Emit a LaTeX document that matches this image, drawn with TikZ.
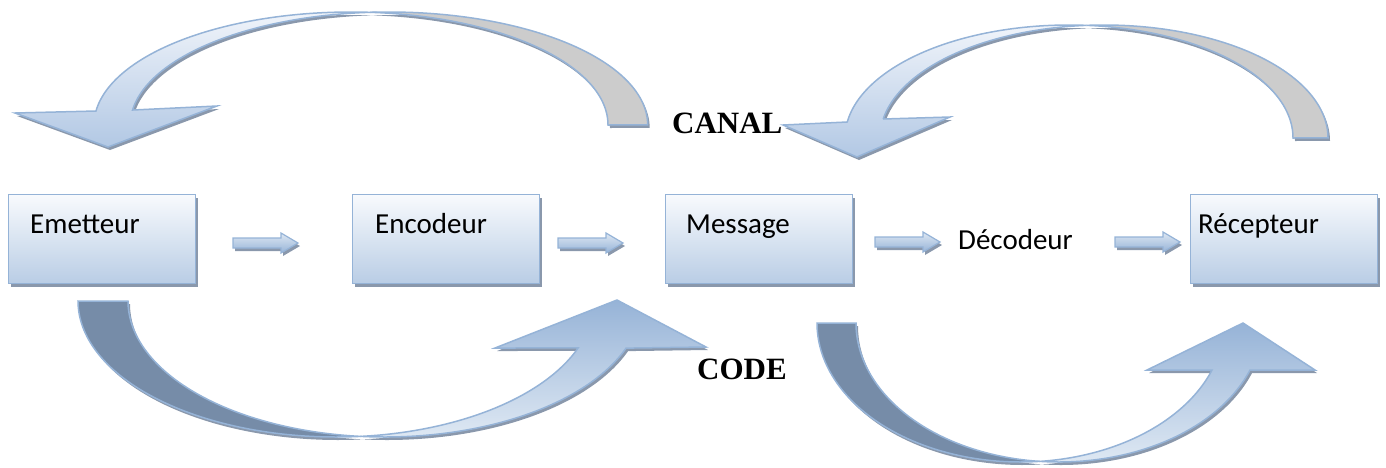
\documentclass[tikz,border=0pt]{standalone}
\usepackage{fontspec}
\setmainfont{Carlito}
\newfontfamily\timesb{Liberation Serif}
\usetikzlibrary{shadows}
\definecolor{bord}{RGB}{149,179,215}
\definecolor{boxbot}{RGB}{185,205,229}
\definecolor{boxtop}{RGB}{248,250,253}
\definecolor{shad}{RGB}{138,152,172}
\definecolor{backgray}{RGB}{204,204,204}
\definecolor{backdark}{RGB}{118,140,168}
\definecolor{fronttop}{RGB}{240,244,250}
\definecolor{frontmid}{RGB}{178,200,228}
\definecolor{headblue}{RGB}{150,179,215}
\definecolor{lightbot}{RGB}{222,232,243}

% elliptic arc helpers: centre x, centre y, rx, ry, start angle, end angle
\newcommand{\arcTop}[6]{plot[domain=0:1,samples=70,variable=\u] ({#1+#3*cos(#5+(#6-#5)*\u)},{#2-#4*sin(#5+(#6-#5)*\u)})}
\newcommand{\arcTopL}[6]{-- plot[domain=0:1,samples=70,variable=\u] ({#1+#3*cos(#5+(#6-#5)*\u)},{#2-#4*sin(#5+(#6-#5)*\u)})}
\newcommand{\arcBot}[6]{plot[domain=0:1,samples=70,variable=\u] ({#1+#3*cos(#5+(#6-#5)*\u)},{#2+#4*sin(#5+(#6-#5)*\u)})}
\newcommand{\arcBotL}[6]{-- plot[domain=0:1,samples=70,variable=\u] ({#1+#3*cos(#5+(#6-#5)*\u)},{#2+#4*sin(#5+(#6-#5)*\u)})}
\newcommand{\smallArr}[2]{(#1,#2-5) -- (#1+48,#2-5) -- (#1+48,#2-10) -- (#1+65,#2) -- (#1+48,#2+10) -- (#1+48,#2+5) -- (#1,#2+5) -- cycle}

\begin{document}
\begin{tikzpicture}[x=1pt,y=-1pt,
  sh/.style={drop shadow={shadow xshift=2pt,shadow yshift=-3pt,fill=shad,opacity=1}},
  box/.style={draw=bord,line width=1.3pt,top color=boxtop,bottom color=boxbot,
    minimum width=187pt,minimum height=89pt,anchor=north west,inner sep=0pt,sh},
  lbl/.style={font=\fontsize{29}{34}\selectfont,inner sep=0pt,anchor=base west},
  biglbl/.style={font=\timesb\bfseries\fontsize{31}{36}\selectfont,inner sep=0pt,anchor=base west},
  smallarrow/.style={draw=bord,line width=1.2pt,top color=lightbot,bottom color=headblue,sh},
  frontdown/.style={draw=bord,line width=1.5pt,top color=fronttop,bottom color=frontmid,sh},
  frontup/.style={draw=bord,line width=1.5pt,top color=headblue,bottom color=lightbot,sh},
  backgrey/.style={draw=bord,line width=1.5pt,fill=backgray,sh},
  backslate/.style={draw=bord,line width=1.5pt,fill=backdark,sh}
]
\useasboundingbox (0,0) rectangle (1386,467);

% boxes
\node[box] (em) at (8,194) {};
\node[box] (en) at (352,194) {};
\node[box] (me) at (665,194) {};
\node[box] (re) at (1190,194) {};

\node[lbl] (emt) at (30,233) {Emetteur};
\node[lbl] (ent) at (375,233) {Encodeur};
\node[lbl] (met) at (686,233) {Message};
\node[lbl] (ret) at (1198,233) {Récepteur};
\node[lbl] (dec) at (958,249) {Décodeur};

% small block arrows
\path[smallarrow] \smallArr{233}{243};
\path[smallarrow] \smallArr{558}{243};
\path[smallarrow] \smallArr{875}{242};
\path[smallarrow] \smallArr{1115}{242};

% top-left curved arrow (A)
\path[backgrey] \arcTop{389}{125}{258.7}{113}{94.2}{0} \arcTopL{351}{125}{257}{113}{0}{85.8} -- cycle;
\path[frontdown] (96,111) -- (15,113) -- (108,147) -- (217,106) -- (133,110)
   \arcTopL{389}{125}{258.7}{113}{172.4}{94.2} \arcTopL{351}{125}{257}{113}{85.8}{172.9} -- cycle;

% top-right curved arrow (B)
\path[backgrey] \arcTop{1104}{138}{224}{113}{94.5}{0} \arcTopL{1069}{138}{224}{113}{0}{85.5} -- cycle;
\path[frontdown] (847,122) -- (783,125) -- (857,157) -- (950,117) -- (883,119)
   \arcTopL{1104}{138}{224}{113}{170.3}{94.5} \arcTopL{1069}{138}{224}{113}{85.5}{171.9} -- cycle;

% bottom-left curved arrow (C)
\path[backslate] \arcBot{336}{301}{258}{136}{180}{84.5} \arcBotL{385}{301}{257}{136}{95.5}{180} -- cycle;
\path[frontup] \arcBot{385}{301}{257}{136}{95.5}{20.2} -- (706,347) -- (617,300) -- (495,348)
   \arcBotL{336}{301}{258}{136}{20.2}{84.5} -- cycle;

% bottom-right curved arrow (D)
\path[backslate] \arcBot{1020.5}{323}{203.5}{139}{180}{84.6} \arcBotL{1059}{323}{203}{139}{95.4}{180} -- cycle;
\path[frontup] \arcBot{1059}{323}{203}{139}{95.4}{19.77} -- (1315,370) -- (1243,323) -- (1147,370)
   \arcBotL{1020.5}{323}{203.5}{139}{19.77}{84.6} -- cycle;

% labels
\node[biglbl] (canal) at (672,133) {CANAL};
\node[biglbl] (code) at (697,379) {CODE};
\end{tikzpicture}
\end{document}
